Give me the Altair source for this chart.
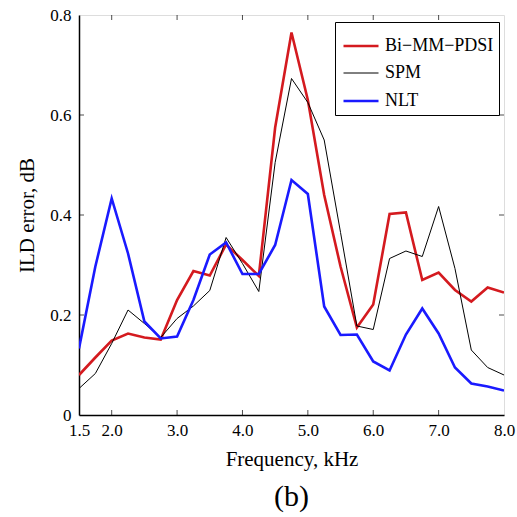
import altair as alt
import pandas as pd

freq = [1.5, 1.75, 2.0, 2.25, 2.5, 2.75, 3.0, 3.25, 3.5, 3.75, 4.0, 4.25, 4.5,
        4.75, 5.0, 5.25, 5.5, 5.75, 6.0, 6.25, 6.5, 6.75, 7.0, 7.25, 7.5, 7.75, 8.0]
bimm = [0.080, 0.115, 0.149, 0.163, 0.155, 0.151, 0.230, 0.288, 0.279, 0.341, 0.310, 0.278, 0.575,
        0.765, 0.630, 0.440, 0.297, 0.175, 0.221, 0.402, 0.405, 0.270, 0.285, 0.250, 0.227, 0.255, 0.245]
spm = [0.053, 0.083, 0.143, 0.210, 0.183, 0.155, 0.193, 0.218, 0.249, 0.355, 0.303, 0.247, 0.505,
       0.673, 0.625, 0.550, 0.365, 0.178, 0.171, 0.313, 0.328, 0.317, 0.417, 0.293, 0.130, 0.095, 0.080]
nlt = [0.133, 0.297, 0.433, 0.323, 0.187, 0.153, 0.157, 0.230, 0.321, 0.345, 0.282, 0.282, 0.340,
       0.470, 0.442, 0.217, 0.160, 0.161, 0.107, 0.089, 0.161, 0.213, 0.163, 0.095, 0.063, 0.057, 0.049]

series = ["Bi\u2212MM\u2212PDSI", "SPM", "NLT"]
colors = ["#d41a1f", "#000000", "#1a1aff"]
widths = [2.6, 1.0, 2.6]

x_ticks = [1.5, 2.0, 3.0, 4.0, 5.0, 6.0, 7.0, 8.0]
y_ticks = [0, 0.2, 0.4, 0.6, 0.8]
x_inner = [2.0, 3.0, 4.0, 5.0, 6.0, 7.0]
y_inner = [0.2, 0.4, 0.6]

rows = []
for name, vals in zip(series, [bimm, spm, nlt]):
    for f, v in zip(freq, vals):
        rows.append({"freq": f, "err": v, "method": name})
df = pd.DataFrame(rows)

W, H = 425, 400
FONT = "Liberation Serif"

xscale = alt.Scale(domain=[1.5, 8.0], nice=False, zero=False)
yscale = alt.Scale(domain=[0, 0.8], nice=False)

xaxis = alt.Axis(values=x_ticks, format=".1f", title="Frequency, kHz",
                 ticks=False, labelPadding=7, titlePadding=10,
                 labelFont=FONT, labelFontSize=17, titleFont=FONT,
                 titleFontSize=21, titleFontWeight="normal",
                 labelColor="black", titleColor="black",
                 domainColor="black", domainWidth=1.5, grid=False,
                 labelFlush=False, labelOverlap=False)
yaxis = alt.Axis(values=y_ticks, format="~g", title="ILD error, dB",
                 ticks=False, labelPadding=8, titlePadding=12,
                 labelFont=FONT, labelFontSize=17, titleFont=FONT,
                 titleFontSize=21, titleFontWeight="normal",
                 labelColor="black", titleColor="black",
                 domainColor="black", domainWidth=1.5, grid=False,
                 labelFlush=False, labelOverlap=False)

leg = alt.Legend(title=None, orient="none", legendX=256, legendY=7,
                 labelFont=FONT, labelFontSize=18, labelColor="black",
                 symbolType="stroke", symbolSize=1225,
                 strokeColor="black", fillColor="white",
                 padding=5, rowPadding=-13, labelOffset=5,
                 symbolOffset=2, offset=0)

lines = alt.Chart(df).mark_line(clip=True).encode(
    x=alt.X("freq:Q", scale=xscale, axis=xaxis),
    y=alt.Y("err:Q", scale=yscale, axis=yaxis),
    color=alt.Color("method:N", scale=alt.Scale(domain=series, range=colors), legend=leg),
    strokeWidth=alt.StrokeWidth("method:N",
                                scale=alt.Scale(type="ordinal", domain=series, range=widths),
                                legend=leg),
)

xt = pd.DataFrame({"t": x_inner})
yt = pd.DataFrame({"t": y_inner})

xb = alt.Chart(xt).mark_tick(color="black", thickness=1, size=5).encode(
    x=alt.X("t:Q", scale=xscale, axis=xaxis), y=alt.value(H - 2.5))
xtop = alt.Chart(xt).mark_tick(color="black", thickness=1, size=5).encode(
    x=alt.X("t:Q", scale=xscale, axis=xaxis), y=alt.value(2.5))
yl = alt.Chart(yt).mark_tick(color="black", thickness=1, size=5, orient="horizontal").encode(
    y=alt.Y("t:Q", scale=yscale, axis=yaxis), x=alt.value(2.5))
yr = alt.Chart(yt).mark_tick(color="black", thickness=1, size=5, orient="horizontal").encode(
    y=alt.Y("t:Q", scale=yscale, axis=yaxis), x=alt.value(W - 2.5))

chart = alt.layer(lines, xb, xtop, yl, yr).properties(
    width=W, height=H,
    title=alt.TitleParams("(b)", orient="bottom", font=FONT, fontSize=30,
                          fontWeight="normal", color="black", offset=13),
    autosize=alt.AutoSizeParams(type="none"),
    padding={"left": 79, "top": 15, "right": 13, "bottom": 102},
).configure_view(stroke="black", strokeWidth=1.5).configure_legend(
    labelFont=FONT, labelFontSize=18, labelColor="black"
).configure(background="white", font=FONT)

chart.save("out.html", embed_options={"renderer": "svg", "actions": False})
